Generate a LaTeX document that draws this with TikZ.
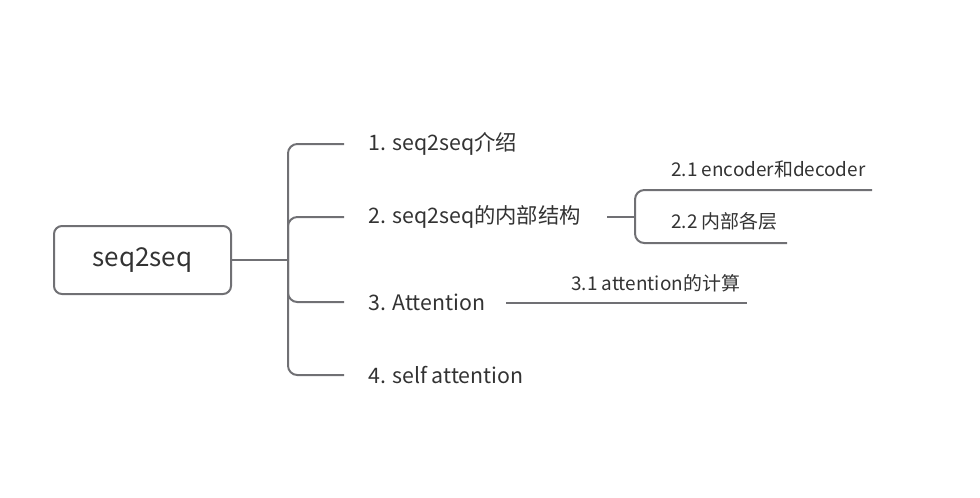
\documentclass[tikz,border=0pt]{standalone}
\usepackage{fontspec}
\newfontfamily\cjk{Noto Sans CJK SC}
\usepackage{tikz}
\definecolor{linegray}{HTML}{707074}
\definecolor{textgray}{HTML}{333333}

\tikzset{
rootbox/.style={draw=linegray, line width=1.5pt, rounded corners=6pt,
  minimum width=132.75pt, minimum height=51pt, font=\cjk\fontsize{19.5}{21}\selectfont, text=textgray},
mainlabel/.style={anchor=west, inner sep=0pt, font=\cjk\fontsize{16}{18}\selectfont, text=textgray},
sublabel/.style={anchor=west, inner sep=0pt, font=\cjk\fontsize{14.2}{16}\selectfont, text=textgray},
branch/.style={draw=linegray, line width=1.5pt, rounded corners=7pt}
}

\begin{document}
\begin{tikzpicture}[x=0.75pt,y=-0.75pt]

\useasboundingbox (0,0) rectangle (980,497);

\node[rootbox] (root) at (142.5,260) {seq2seq};
\coordinate (hub) at (288,260);

\foreach \n/\y/\t in {1/144/{1. seq2seq介绍}, 2/217/{2. seq2seq的内部结构},
  3/302/{3. Attention}, 4/375/{4. self attention}}
{
\node[mainlabel] (t\n) at (368,\y) {\t};
\coordinate (e\n) at (344,\y);
}

\draw[branch] (root.east) -- (hub);
\draw[branch] (e1) -| (hub) |- (e4);
\draw[branch] (e2) -| (hub);
\draw[branch] (e3) -| (hub);

% 2. sub branches
\coordinate (s2) at (607,217);
\coordinate (hub2) at (635,217);
\coordinate (e21) at (872,190);
\coordinate (e22) at (787,243);
\node[sublabel] (t21) at (671,169) {2.1 encoder和decoder};
\node[sublabel] (t22) at (671,221) {2.2 内部各层};
\draw[branch] (s2) -- (hub2);
\draw[branch] (e21) -| (hub2) |- (e22);

% 3. sub branch
\coordinate (s3) at (506,303);
\coordinate (e31) at (747,303);
\node[sublabel] (t31) at (571,283) {3.1 attention的计算};
\draw[branch] (s3) -- (e31);

\end{tikzpicture}
\end{document}
